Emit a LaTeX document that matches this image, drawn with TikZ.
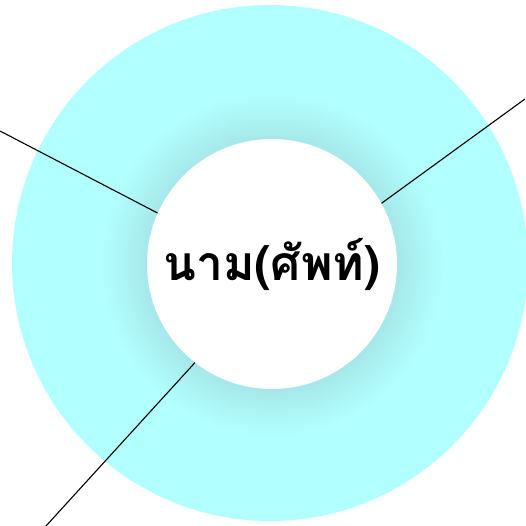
\documentclass[tikz,border=0pt]{standalone}
\usepackage{fontspec}
\newfontfamily\thaifont[Script=Thai]{Loma}
\usetikzlibrary{positioning,calc}
\definecolor{ink}{HTML}{000000}
\definecolor{ring}{HTML}{B2FFFF}
\definecolor{halo}{HTML}{A6E8EA}
\pgfdeclareradialshading{haloshade}{\pgfpoint{0bp}{0bp}}{color(0bp)=(halo); color(17.5bp)=(halo); color(18.2bp)=(halo); color(25bp)=(ring); color(50bp)=(ring)}
\tikzset{
  word/.style={circle,fill=white,minimum size=250pt,inner sep=0pt,font=\thaifont\bfseries\fontsize{48}{56}\selectfont,text=ink},
  spoke/.style={line width=1.1pt,ink}
}

\begin{document}
\begin{tikzpicture}[x=1pt,y=1pt]
\useasboundingbox (0,0) rectangle (525,526);
% ================= ring and halo =================
\fill[ring] (270,263) circle (258);
\shade[shading=haloshade] (272,262) circle (172);
% ================= centre word =================
\node[word] (noun) at (272,262) {นาม(ศัพท์)};
% ================= spokes =================
\coordinate (west) at (0,395);
\coordinate (east) at (525,427);
\coordinate (south) at (46,0);
\draw[spoke] (noun.156.5) -- (west);
\draw[spoke] (noun.29.6) -- (east);
\draw[spoke] (noun.232.5) -- (south);
\end{tikzpicture}
\end{document}
